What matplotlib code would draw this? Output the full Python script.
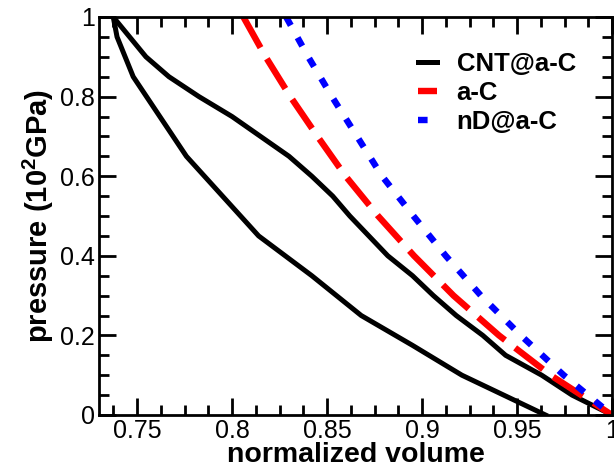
import matplotlib
matplotlib.use("Agg")
import matplotlib.pyplot as plt
from matplotlib.ticker import MultipleLocator, FuncFormatter

plt.rcParams['font.family'] = ['Liberation Sans', 'DejaVu Sans']
plt.rcParams['mathtext.fontset'] = 'custom'
plt.rcParams['mathtext.rm'] = 'Liberation Sans'
plt.rcParams['mathtext.bf'] = 'Liberation Sans:bold'

# CNT@a-C : upper branch
cnt_up_v = [0.7375, 0.7547, 0.7668, 0.7826, 0.800, 0.815, 0.830, 0.842, 0.853, 0.862,
            0.872, 0.882, 0.895, 0.906, 0.918, 0.932, 0.944, 0.963, 0.979, 1.0]
cnt_up_p = [1.0, 0.9, 0.85, 0.8, 0.75, 0.7, 0.65, 0.6, 0.55, 0.5,
            0.45, 0.4, 0.35, 0.3, 0.25, 0.2, 0.15, 0.1, 0.05, 0.0]
# CNT@a-C : lower branch
cnt_lo_v = [0.7375, 0.7395, 0.748, 0.762, 0.776, 0.795, 0.814, 0.828, 0.842, 0.868,
            0.895, 0.921, 0.943, 0.965]
cnt_lo_p = [1.0, 0.95, 0.85, 0.75, 0.65, 0.55, 0.45, 0.4, 0.35, 0.25,
            0.175, 0.1, 0.05, 0.0]
# a-C
ac_v = [0.806, 0.8177, 0.8307, 0.845, 0.8598, 0.8769, 0.8958, 0.9166, 0.9405, 0.9677, 1.0]
ac_p = [1.0, 0.9, 0.8, 0.7, 0.6, 0.5, 0.4, 0.3, 0.2, 0.1, 0.0]
# nD@a-C
nd_v = [0.8285, 0.8401, 0.8526, 0.8658, 0.879, 0.8955, 0.9125, 0.931, 0.952, 0.9746, 1.0]
nd_p = [1.0, 0.9, 0.8, 0.7, 0.6, 0.5, 0.4, 0.3, 0.2, 0.1, 0.0]

labels = ['CNT@a-C', 'a-C', 'nD@a-C']
x_ticks = [0.75, 0.8, 0.85, 0.9, 0.95, 1.0]
y_ticks = [0, 0.2, 0.4, 0.6, 0.8, 1.0]

fig = plt.figure(figsize=(6.14, 4.70), dpi=100)
ax = fig.add_axes([99/614, 1-415/470, (612-99)/614, (415-17)/470])

ax.plot(cnt_up_v, cnt_up_p, color='black', lw=3.6, label=labels[0], solid_joinstyle='miter')
ax.plot(cnt_lo_v, cnt_lo_p, color='black', lw=3.6, solid_joinstyle='miter')
ax.plot(ac_v, ac_p, color='#ff0000', lw=4.6, dashes=(5.5, 2.0), dash_capstyle='butt', label=labels[1])
ax.plot(nd_v, nd_p, color='#0000ff', lw=4.6, dashes=(1.5, 2.2), dash_capstyle='butt', label=labels[2])

ax.set_xlim(0.73, 1.0)
ax.set_ylim(0, 1.0)
ax.set_xticks(x_ticks)
ax.set_yticks(y_ticks)
fmt = FuncFormatter(lambda v, p: '%g' % v)
ax.xaxis.set_major_formatter(fmt)
ax.yaxis.set_major_formatter(fmt)
ax.xaxis.set_minor_locator(MultipleLocator(0.0125))
ax.yaxis.set_minor_locator(MultipleLocator(0.05))
ax.tick_params(which='both', direction='in', top=True, right=True, width=2, labelsize=18, pad=3)
ax.tick_params(which='major', length=12)
ax.tick_params(which='minor', length=7)
for s in ax.spines.values():
    s.set_linewidth(2)

ax.set_xlabel('normalized volume', fontsize=20.5, fontweight='bold', labelpad=-1)
ax.set_ylabel(r'pressure (10$^{\mathbf{2}}$GPa)', fontsize=21, fontweight='bold', labelpad=3)

leg = ax.legend(loc='upper left', bbox_to_anchor=(0.622, 0.912), frameon=False,
                prop={'weight': 'bold', 'size': 18.5}, handlelength=0.75, handletextpad=0.75,
                borderpad=0, borderaxespad=0, labelspacing=0.2)

fig.savefig('out.png', dpi=100)
